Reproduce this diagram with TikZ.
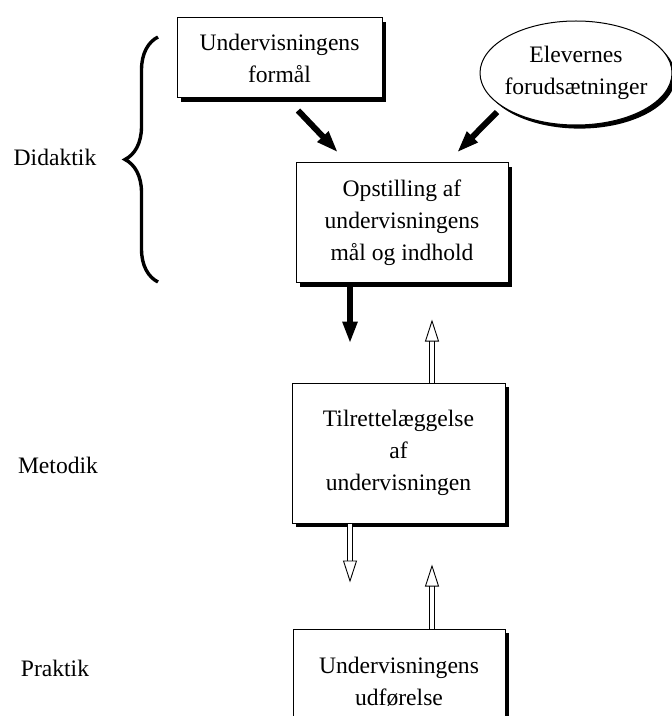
\documentclass[tikz,border=0pt]{standalone}
\usepackage{fontspec}
\setmainfont{Liberation Serif}
\usetikzlibrary{shapes,arrows.meta,positioning,calc,shadows,decorations.pathreplacing}

\begin{document}
\begin{tikzpicture}[x=0.5pt,y=-0.5pt,
    font=\fontsize{11.8}{16}\selectfont,
    shade/.style={drop shadow={shadow xshift=1.8pt,shadow yshift=-1.8pt,opacity=1,fill=black}},
    box/.style={draw,line width=0.5pt,fill=white,align=center,inner sep=0pt,shade},
    elev/.style={ellipse,draw,line width=0.5pt,fill=white,inner sep=0pt,
        minimum width=96pt,minimum height=52pt,shade},
    bigarrow/.style={line width=3pt,-{Triangle[length=11pt,width=7pt]}},
    hollowarrow/.style={double,double distance=1.8pt,line width=0.45pt,
        -{Triangle[open,length=11pt,width=7pt,line width=0.45pt]}}]
    \useasboundingbox (0,0) rectangle (672,716);
    \clip (0,0) rectangle (672,716);

    % Boxes
    \node[box,minimum width=102.5pt,minimum height=40pt] (fml) at (279.5,58) {Undervisningens\\formål};
    \node[elev,label={[align=center]center:Elevernes\\forudsætninger}] (elv) at (576,73) {};
    \node[box,minimum width=106pt,minimum height=60pt] (opst) at (402,223) {Opstilling af\\undervisningens\\mål og indhold};
    \node[box,minimum width=106.5pt,minimum height=70pt] (tilr) at (398.5,453) {Tilrettelæggelse\\af\\undervisningen};
    \node[box,minimum width=106pt,minimum height=53pt] (udf) at (399,682) {Undervisningens\\udførelse};

    % Levels
    \node (did) at (55,157) {Didaktik};
    \node (met) at (58,465) {Metodik};
    \node (pra) at (55,668) {Praktik};
    \coordinate (bbot) at (158,282);
    \coordinate (btop) at (158,37);
    \draw[line width=1.7pt,decorate,decoration={brace,amplitude=16.5pt}] (bbot) -- (btop);

    % Arrows
    \draw[bigarrow] ($(fml.south)+(18.5,12)$) -- ($(opst.north)+(-64,-10)$);
    \draw[bigarrow] ($(elv.center)+(-79,39)$) -- ($(opst.north)+(55,-10)$);
    \draw[bigarrow] ($(opst.south)+(-52,0)$) -- ($(opst.south)+(-52,60)$);
    \draw[hollowarrow] ($(tilr.north)+(33.5,0)$) -- ($(tilr.north)+(33.5,-63)$);
    \draw[hollowarrow] ($(tilr.south)+(-48.5,0)$) -- ($(tilr.south)+(-48.5,59)$);
    \draw[hollowarrow] ($(udf.north)+(33,0)$) -- ($(udf.north)+(33,-64)$);
\end{tikzpicture}
\end{document}
